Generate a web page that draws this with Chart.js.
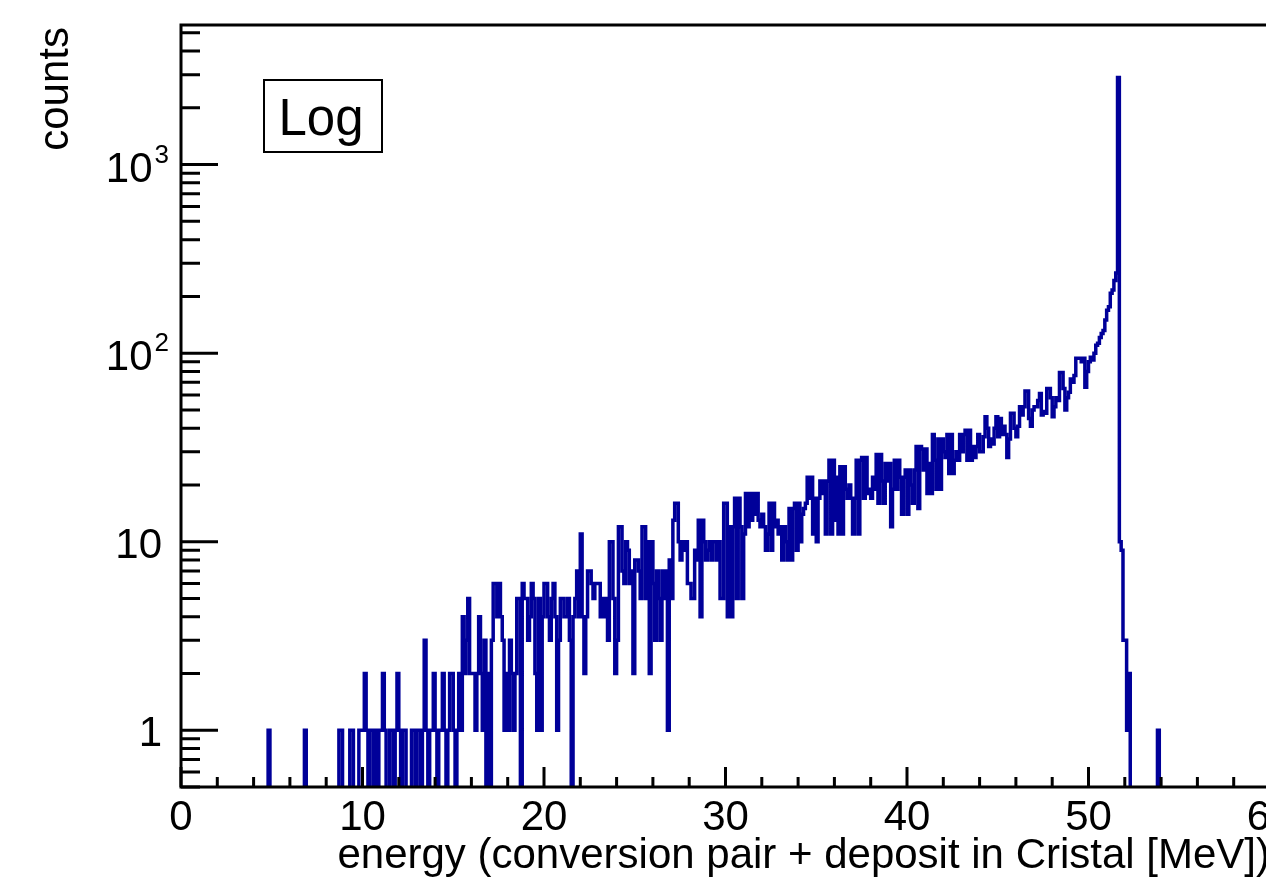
<!DOCTYPE html>
<html>
<head>
<meta charset="utf-8">
<script src="https://cdn.jsdelivr.net/npm/chart.js@4.4.1/dist/chart.umd.min.js"></script>
<style>
  html, body { margin: 0; padding: 0; background: #fff; overflow: hidden; }
  #wrap { width: 1300px; height: 891px; }
</style>
</head>
<body>
<div id="wrap"><canvas id="hist" width="1300" height="891"></canvas></div>
<script>
// ==============================
// data (counts per 0.1 MeV bin)
// ==============================
const binWidth = 0.1;

const counts0to10 = [
  0,0,0,0,0,0,0,0,0,0,
  0,0,0,0,0,0,0,0,0,0,
  0,0,0,0,0,0,0,0,0,0,
  0,0,0,0,0,0,0,0,0,0,
  0,0,0,0,0,0,0,0,1,0,
  0,0,0,0,0,0,0,0,0,0,
  0,0,0,0,0,0,0,0,1,0,
  0,0,0,0,0,0,0,0,0,0,
  0,0,0,0,0,0,0,1,1,0,
  0,0,0,1,1,0,0,0,1,1
];
const counts10to20 = [
  1,2,1,0,1,1,0,1,0,1,
  1,2,1,0,0,1,1,0,1,2,
  1,0,1,1,0,0,0,1,1,0,
  1,1,0,1,3,1,0,1,1,2,
  1,0,1,1,2,1,0,1,2,2,
  1,0,1,2,1,4,2,3,5,2,
  2,2,1,2,4,2,1,3,0,2,
  0,3,6,6,4,6,4,3,1,2,
  1,3,2,1,2,5,5,0,6,5,
  5,3,4,6,5,2,1,5,1,4
];
const counts20to30 = [
  6,6,4,3,5,6,4,1,3,5,
  5,4,4,5,3,0,4,5,7,4,
  11,4,2,4,7,7,6,5,6,6,
  6,4,5,4,5,3,10,10,5,2,
  3,12,12,7,6,10,9,6,7,2,
  8,8,7,5,12,12,5,10,2,10,
  6,3,7,5,3,7,5,7,1,8,
  5,13,16,16,10,8,10,9,10,6,
  6,5,5,9,8,13,4,13,10,8,
  9,10,8,10,10,8,10,5,5,16
];
const counts30to40 = [
  16,4,12,4,12,17,5,17,12,5,
  11,18,12,18,13,18,14,18,13,12,
  14,12,9,11,16,9,16,12,13,11,
  12,8,12,10,8,15,8,15,16,9,
  16,10,14,15,16,22,17,22,11,17,
  10,17,21,18,21,11,21,27,11,27,
  13,22,11,25,11,25,19,17,20,17,
  11,17,27,11,27,28,17,28,18,19,
  17,22,19,29,16,29,21,16,26,21,
  26,12,19,27,19,27,22,14,22,24
];
const counts40to50 = [
  14,24,20,16,24,32,15,32,31,24,
  31,18,26,18,37,27,19,35,19,35,
  30,28,37,23,37,23,27,30,27,37,
  30,37,39,27,39,27,32,28,32,37,
  30,30,36,46,40,32,35,33,40,46,
  36,45,37,41,37,28,35,48,48,40,
  36,41,52,47,52,63,63,45,41,50,
  52,52,56,61,47,49,48,65,65,58,
  46,52,58,56,79,79,65,50,58,62,
  73,70,76,94,94,94,90,94,66,80
];
const counts50to60 = [
  90,95,92,100,110,113,121,127,132,150,
  169,176,208,216,243,266,2900,10,9,3,
  3,1,2,0,0,0,0,0,0,0,
  0,0,0,0,0,0,0,0,1,0,
  0,0,0,0,0,0,0,0,0,0,
  0,0,0,0,0,0,0,0,0,0,
  0,0,0,0,0,0,0,0,0,0,
  0,0,0,0,0,0,0,0,0,0,
  0,0,0,0,0,0,0,0,0,0,
  0,0,0,0,0,0,0,0,0,0
];

const xTickValues = [0, 10, 20, 30, 40, 50, 60];
const yTickValues = [1, 10, 100, 1000];
const yTickBase = ["1", "10", "10", "10"];
const yTickPower = ["", "", "2", "3"];

const xTitle = "energy (conversion pair + deposit in Cristal [MeV])";
const yTitle = "counts";
const boxLabel = "Log";

// ==============================
// histogram -> step points
// ==============================
const counts = [].concat(counts0to10, counts10to20, counts20to30,
                         counts30to40, counts40to50, counts50to60);
const yMin = 0.5, yMax = 5500;
const FLOOR = 0.05; // empty bins go below the frame and get clipped

const points = counts.map((c, i) => ({ x: i * binWidth, y: c > 0 ? c : FLOOR }));
const lastCount = counts[counts.length - 1];
points.push({ x: counts.length * binWidth, y: lastCount > 0 ? lastCount : FLOOR });

const FONT = '"Liberation Sans", Arial, Helvetica, sans-serif';
const HIST_COLOR = "#000099";

// ==============================
// frame, inward ticks, labels, titles
// ==============================
const rootFrame = {
  id: "rootFrame",
  afterDatasetsDraw(chart) {
    const { ctx, chartArea: a, scales } = chart;
    const x = scales.x, y = scales.y;
    ctx.save();
    ctx.strokeStyle = "#000";
    ctx.lineWidth = 3;
    ctx.lineCap = "butt";

    ctx.beginPath();
    ctx.moveTo(a.right + 20, a.top);
    ctx.lineTo(a.left, a.top);
    ctx.lineTo(a.left, a.bottom);
    ctx.lineTo(a.right + 20, a.bottom);
    ctx.stroke();

    // x ticks: major every 10, minor every 2
    ctx.beginPath();
    for (let v = 0; v <= 60; v += 2) {
      const px = x.getPixelForValue(v);
      const len = v % 10 === 0 ? 20 : 10;
      ctx.moveTo(px, a.bottom);
      ctx.lineTo(px, a.bottom - len);
    }
    ctx.stroke();

    // y ticks: decades + 2..9
    ctx.beginPath();
    for (let d = -1; d <= 3; d++) {
      for (let m = 1; m <= 9; m++) {
        const v = m * Math.pow(10, d);
        if (v < yMin || v > yMax) continue;
        const py = y.getPixelForValue(v);
        const len = m === 1 ? 37 : 19;
        ctx.moveTo(a.left, py);
        ctx.lineTo(a.left + len, py);
      }
    }
    ctx.stroke();

    ctx.fillStyle = "#000";
    ctx.textBaseline = "alphabetic";

    // y tick labels with superscript powers
    yTickValues.forEach((v, i) => {
      const py = y.getPixelForValue(v);
      const base = yTickBase[i], pow = yTickPower[i];
      ctx.textAlign = "right";
      if (pow) {
        ctx.font = "26px " + FONT;
        const w = ctx.measureText(pow).width;
        ctx.fillText(pow, 169, py - 2);
        ctx.font = "42px " + FONT;
        ctx.fillText(base, 167 - w, py + 17);
      } else {
        ctx.font = "42px " + FONT;
        ctx.fillText(base, 162, py + 16);
      }
    });

    // titles
    ctx.font = "42px " + FONT;
    ctx.textAlign = "right";
    ctx.fillText(xTitle, a.right, 868);

    ctx.save();
    ctx.translate(68, 27);
    ctx.rotate(-Math.PI / 2);
    ctx.textAlign = "right";
    ctx.fillText(yTitle, 0, 0);
    ctx.restore();

    // "Log" box
    ctx.lineWidth = 2;
    ctx.strokeRect(264, 80, 118, 72);
    ctx.font = "51px " + FONT;
    ctx.textAlign = "center";
    ctx.fillText(boxLabel, 321, 135);

    ctx.restore();
  }
};

// ==============================
// chart
// ==============================
new Chart(document.getElementById("hist"), {
  type: "line",
  data: {
    datasets: [{
      data: points,
      stepped: true,
      borderColor: HIST_COLOR,
      borderWidth: 3.5,
      borderJoinStyle: "miter",
      borderCapStyle: "butt",
      pointRadius: 0,
      fill: false,
      tension: 0
    }]
  },
  options: {
    responsive: false,
    animation: false,
    layout: { padding: { top: 25, right: 30, left: 0, bottom: 0 } },
    plugins: { legend: { display: false }, tooltip: { enabled: false } },
    scales: {
      x: {
        type: "linear",
        min: 0,
        max: 60,
        grid: { display: false, drawTicks: false },
        border: { display: false },
        afterFit: s => { s.height = 104; s.paddingLeft = 0; s.paddingRight = 0; },
        afterBuildTicks: s => { s.ticks = xTickValues.map(v => ({ value: v })); },
        ticks: {
          autoSkip: false,
          maxRotation: 0,
          padding: 6,
          color: "#000",
          font: { family: FONT, size: 42 },
          callback: v => String(v)
        }
      },
      y: {
        type: "logarithmic",
        min: yMin,
        max: yMax,
        grid: { display: false, drawTicks: false },
        border: { display: false },
        afterFit: s => { s.width = 181; s.paddingTop = 0; s.paddingBottom = 0; },
        afterBuildTicks: s => { s.ticks = yTickValues.map(v => ({ value: v })); },
        ticks: { display: false }
      }
    }
  },
  plugins: [rootFrame]
});
</script>
</body>
</html>
